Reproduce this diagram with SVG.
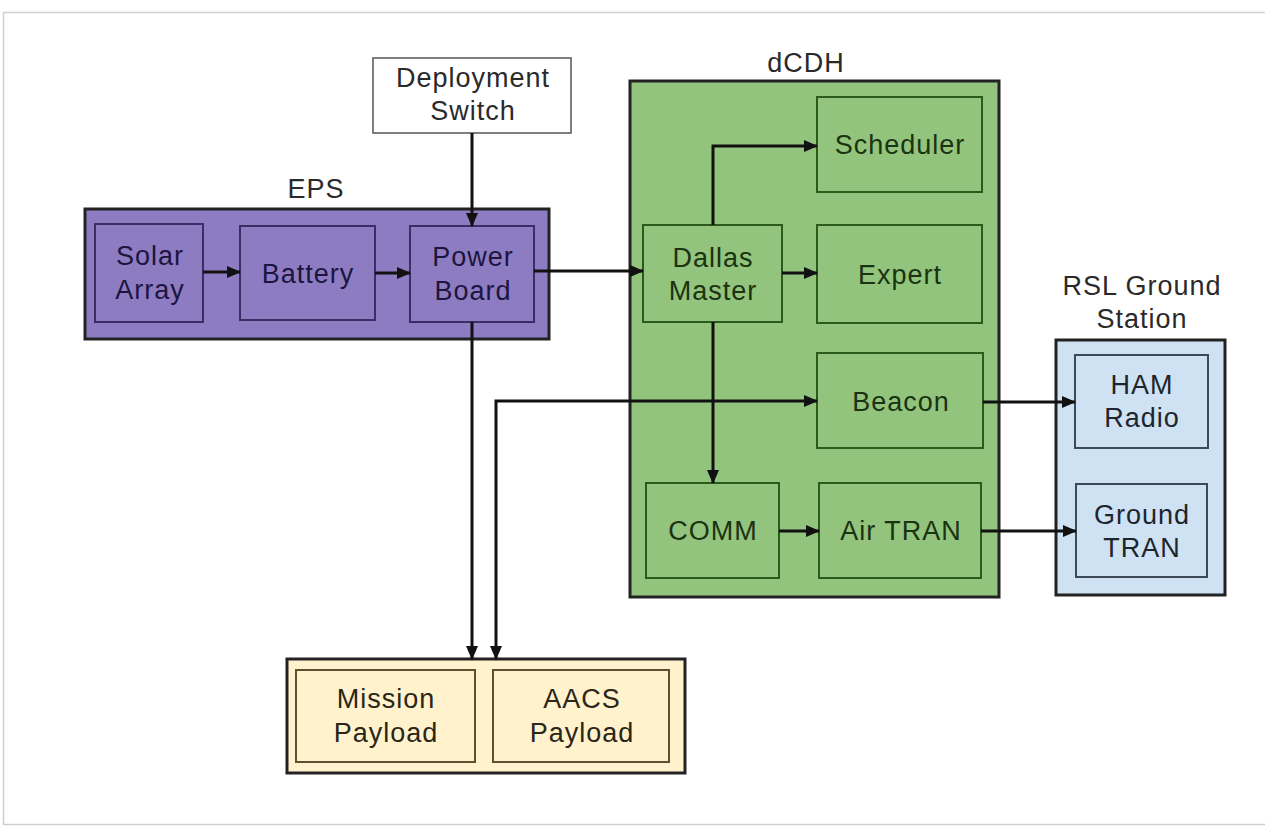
<svg xmlns="http://www.w3.org/2000/svg" width="1265" height="827" viewBox="0 0 1265 827">
  <defs>
    <marker id="arrow" markerWidth="14" markerHeight="12" refX="13" refY="6" orient="auto-start-reverse" markerUnits="userSpaceOnUse">
      <path d="M0,0 L14,6 L0,12 z" fill="#111"/>
    </marker>
    <style>
      text { font-family: "Liberation Sans", Arial, sans-serif; font-size: 27px; letter-spacing: 1px; text-anchor: middle; }
      .lbl { fill: #2a2a2a; }
      .eps { fill: #8e7cc3; stroke: #222; stroke-width: 3; }
      .eps-in { fill: #8e7cc3; stroke: #3b2e66; stroke-width: 2; }
      .eps-t { fill: #1c1540; }
      .cdh { fill: #93c47d; stroke: #222; stroke-width: 3; }
      .cdh-in { fill: #93c47d; stroke: #2b5a1c; stroke-width: 2; }
      .cdh-t { fill: #1a3310; }
      .gs { fill: #cfe2f3; stroke: #222; stroke-width: 3; }
      .gs-in { fill: #cfe2f3; stroke: #3c4a58; stroke-width: 2; }
      .gs-t { fill: #1e252c; }
      .pl { fill: #fff2cc; stroke: #222; stroke-width: 3; }
      .pl-in { fill: #fff2cc; stroke: #5a5230; stroke-width: 2; }
      .pl-t { fill: #2a2618; }
      .wire { fill: none; stroke: #111; stroke-width: 3; }
    </style>
  </defs>

  <rect width="1265" height="827" fill="#ffffff"/>
  <rect x="3.5" y="12.5" width="1275" height="812" fill="none" stroke="#cfcfcf" stroke-width="1.5"/>

  <!-- Deployment switch -->
  <g id="deployment-switch">
    <rect x="373" y="58" width="198" height="75" fill="#ffffff" stroke="#555" stroke-width="1.5"/>
    <text class="lbl" x="473" y="87">Deployment</text>
    <text class="lbl" x="473" y="120">Switch</text>
  </g>

  <!-- EPS -->
  <g id="eps">
    <text class="lbl" x="316" y="198">EPS</text>
    <rect class="eps" x="85" y="209" width="464" height="130"/>
  </g>
  <g id="solar-array">
    <rect class="eps-in" x="95" y="224" width="108" height="98"/>
    <text class="eps-t" x="150" y="265">Solar</text>
    <text class="eps-t" x="150" y="299">Array</text>
  </g>
  <g id="battery">
    <rect class="eps-in" x="240" y="226" width="135" height="94"/>
    <text class="eps-t" x="308" y="283">Battery</text>
  </g>
  <g id="power-board">
    <rect class="eps-in" x="410" y="226" width="124" height="96"/>
    <text class="eps-t" x="473" y="266">Power</text>
    <text class="eps-t" x="473" y="300">Board</text>
  </g>

  <!-- dCDH -->
  <g id="dcdh">
    <text class="lbl" x="806" y="72">dCDH</text>
    <rect class="cdh" x="630" y="81" width="369" height="516"/>
  </g>
  <g id="scheduler">
    <rect class="cdh-in" x="817" y="97" width="165" height="95"/>
    <text class="cdh-t" x="900" y="154">Scheduler</text>
  </g>
  <g id="dallas-master">
    <rect class="cdh-in" x="643" y="225" width="139" height="97"/>
    <text class="cdh-t" x="713" y="267">Dallas</text>
    <text class="cdh-t" x="713" y="300">Master</text>
  </g>
  <g id="expert">
    <rect class="cdh-in" x="817" y="225" width="165" height="98"/>
    <text class="cdh-t" x="900" y="284">Expert</text>
  </g>
  <g id="beacon">
    <rect class="cdh-in" x="817" y="353" width="166" height="95"/>
    <text class="cdh-t" x="901" y="411">Beacon</text>
  </g>
  <g id="comm">
    <rect class="cdh-in" x="646" y="483" width="133" height="95"/>
    <text class="cdh-t" x="713" y="540">COMM</text>
  </g>
  <g id="air-tran">
    <rect class="cdh-in" x="819" y="483" width="162" height="95"/>
    <text class="cdh-t" x="901" y="540">Air TRAN</text>
  </g>

  <!-- RSL ground station -->
  <g id="ground-station">
    <text class="lbl" x="1142" y="295">RSL Ground</text>
    <text class="lbl" x="1142" y="328">Station</text>
    <rect class="gs" x="1056" y="340" width="169" height="255"/>
  </g>
  <g id="ham-radio">
    <rect class="gs-in" x="1075" y="355" width="133" height="93"/>
    <text class="gs-t" x="1142" y="394">HAM</text>
    <text class="gs-t" x="1142" y="427">Radio</text>
  </g>
  <g id="ground-tran">
    <rect class="gs-in" x="1076" y="484" width="131" height="93"/>
    <text class="gs-t" x="1142" y="524">Ground</text>
    <text class="gs-t" x="1142" y="557">TRAN</text>
  </g>

  <!-- Payloads -->
  <g id="payloads">
    <rect class="pl" x="287" y="659" width="398" height="114"/>
  </g>
  <g id="mission-payload">
    <rect class="pl-in" x="296" y="670" width="179" height="92"/>
    <text class="pl-t" x="386" y="708">Mission</text>
    <text class="pl-t" x="386" y="742">Payload</text>
  </g>
  <g id="aacs-payload">
    <rect class="pl-in" x="493" y="670" width="176" height="92"/>
    <text class="pl-t" x="582" y="708">AACS</text>
    <text class="pl-t" x="582" y="742">Payload</text>
  </g>

  <!-- Connectors -->
  <g id="connectors">
    <path class="wire" d="M203,272 L240,272" marker-end="url(#arrow)"/>
    <path class="wire" d="M375,273 L410,273" marker-end="url(#arrow)"/>
    <path class="wire" d="M472,133 L472,226" marker-end="url(#arrow)"/>
    <path class="wire" d="M534,271 L643,271" marker-end="url(#arrow)"/>
    <path class="wire" d="M713,225 L713,146 L817,146" marker-end="url(#arrow)"/>
    <path class="wire" d="M782,273 L817,273" marker-end="url(#arrow)"/>
    <path class="wire" d="M713,322 L713,483" marker-end="url(#arrow)"/>
    <path class="wire" d="M779,531 L819,531" marker-end="url(#arrow)"/>
    <path class="wire" d="M496,659 L496,401 L817,401" marker-start="url(#arrow)" marker-end="url(#arrow)"/>
    <path class="wire" d="M472,322 L472,659" marker-end="url(#arrow)"/>
    <path class="wire" d="M983,402 L1075,402" marker-end="url(#arrow)"/>
    <path class="wire" d="M981,531 L1076,531" marker-end="url(#arrow)"/>
  </g>
</svg>
